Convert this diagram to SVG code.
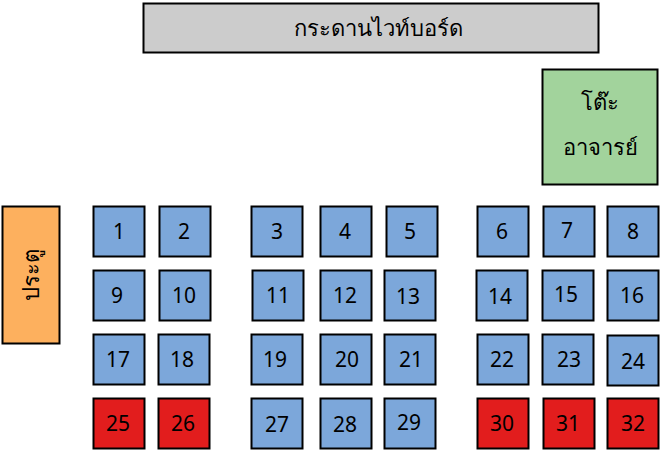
<svg xmlns="http://www.w3.org/2000/svg" width="660" height="453" viewBox="0 0 660 453">
<style>
.n rect{stroke:#000;stroke-width:2}
.b{fill:#7CA7DA}
.r{fill:#E21D1D}
text{font-family:"Noto Sans","DejaVu Sans",sans-serif;font-size:21px;fill:#000;text-anchor:middle;font-weight:normal}
.t{font-size:22px}
</style>
<g id="whiteboard" class="n"><rect x="143.5" y="3.5" width="455" height="49" fill="#CCCCCC"/><text class="t" x="378" y="36">กระดานไวท์บอร์ด</text></g>
<g id="teacher" class="n"><rect x="542.5" y="69.5" width="115" height="115" fill="#A2D39C"/><text class="t" x="600" y="110">โต๊ะ</text><text class="t" x="600" y="155">อาจารย์</text></g>
<g id="door" class="n"><rect x="2.5" y="206.5" width="57" height="137" fill="#FDB05E"/><text class="t" transform="translate(31 275) rotate(-90)" x="0" y="8">ประตู</text></g>
<g id="seats" class="n">
<g id="s1"><rect class="b" x="93.5" y="206.5" width="51" height="50"/><text x="119" y="239">1</text></g>
<g id="s2"><rect class="b" x="159.5" y="206.5" width="51" height="50"/><text x="184" y="239">2</text></g>
<g id="s3"><rect class="b" x="251.5" y="206.5" width="51" height="50"/><text x="277" y="239">3</text></g>
<g id="s4"><rect class="b" x="320.5" y="206.5" width="51" height="50"/><text x="345" y="239">4</text></g>
<g id="s5"><rect class="b" x="386.5" y="206.5" width="51" height="50"/><text x="410" y="239">5</text></g>
<g id="s6"><rect class="b" x="477.5" y="206.5" width="51" height="50"/><text x="502" y="239">6</text></g>
<g id="s7"><rect class="b" x="543.5" y="206.5" width="51" height="50"/><text x="567" y="238">7</text></g>
<g id="s8"><rect class="b" x="607.5" y="206.5" width="51" height="50"/><text x="633" y="239">8</text></g>
<g id="s9"><rect class="b" x="93.5" y="270.5" width="51" height="50"/><text x="117" y="303">9</text></g>
<g id="s10"><rect class="b" x="159.5" y="270.5" width="51" height="50"/><text x="184" y="303">10</text></g>
<g id="s11"><rect class="b" x="252.5" y="270.5" width="51" height="50"/><text x="278" y="303">11</text></g>
<g id="s12"><rect class="b" x="320.5" y="270.5" width="51" height="50"/><text x="345" y="303">12</text></g>
<g id="s13"><rect class="b" x="384.5" y="270.5" width="51" height="50"/><text x="408" y="304">13</text></g>
<g id="s14"><rect class="b" x="476.5" y="270.5" width="51" height="50"/><text x="500" y="304">14</text></g>
<g id="s15"><rect class="b" x="542.5" y="270.5" width="51" height="50"/><text x="566" y="302">15</text></g>
<g id="s16"><rect class="b" x="607.5" y="270.5" width="51" height="50"/><text x="632" y="303">16</text></g>
<g id="s17"><rect class="b" x="93.5" y="334.5" width="51" height="50"/><text x="118" y="367">17</text></g>
<g id="s18"><rect class="b" x="158.5" y="334.5" width="51" height="50"/><text x="182" y="367">18</text></g>
<g id="s19"><rect class="b" x="251.5" y="334.5" width="51" height="50"/><text x="275" y="367">19</text></g>
<g id="s20"><rect class="b" x="320.5" y="334.5" width="51" height="50"/><text x="347" y="367">20</text></g>
<g id="s21"><rect class="b" x="384.5" y="334.5" width="51" height="50"/><text x="411" y="367">21</text></g>
<g id="s22"><rect class="b" x="477.5" y="334.5" width="51" height="50"/><text x="502" y="367">22</text></g>
<g id="s23"><rect class="b" x="542.5" y="334.5" width="51" height="50"/><text x="569" y="367">23</text></g>
<g id="s24"><rect class="b" x="607.5" y="335.5" width="51" height="50"/><text x="633" y="369">24</text></g>
<g id="s25"><rect class="r" x="93.5" y="398.5" width="51" height="50"/><text x="118" y="431">25</text></g>
<g id="s26"><rect class="r" x="158.5" y="398.5" width="51" height="50"/><text x="183" y="431">26</text></g>
<g id="s27"><rect class="b" x="251.5" y="398.5" width="51" height="50"/><text x="277" y="432">27</text></g>
<g id="s28"><rect class="b" x="320.5" y="398.5" width="51" height="50"/><text x="345" y="432">28</text></g>
<g id="s29"><rect class="b" x="384.5" y="398.5" width="51" height="50"/><text x="409" y="430">29</text></g>
<g id="s30"><rect class="r" x="477.5" y="398.5" width="51" height="50"/><text x="502" y="431">30</text></g>
<g id="s31"><rect class="r" x="543.5" y="398.5" width="51" height="50"/><text x="568" y="431">31</text></g>
<g id="s32"><rect class="r" x="607.5" y="398.5" width="51" height="50"/><text x="633" y="431">32</text></g>
</g>
<g id="connectors"/>
</svg>
